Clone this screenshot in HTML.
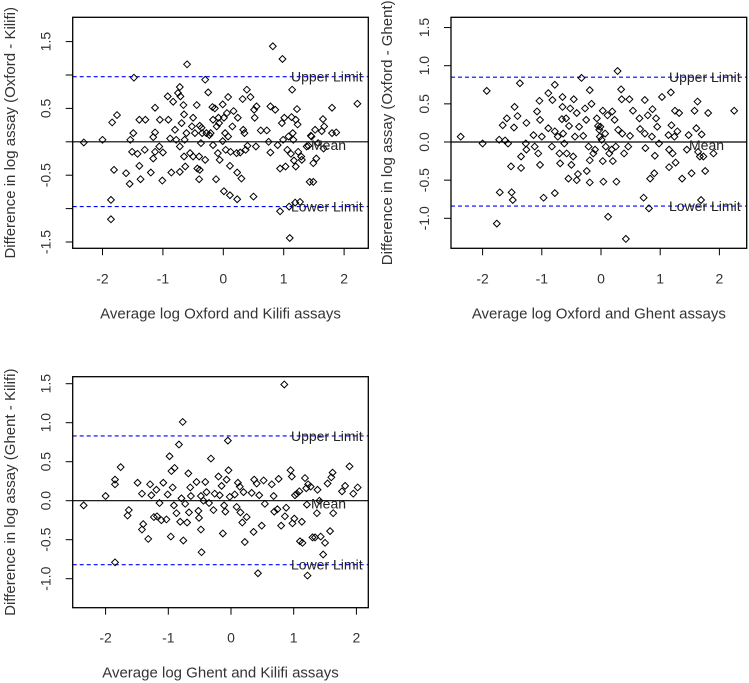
<!DOCTYPE html>
<html><head><meta charset="utf-8"><style>
html,body{margin:0;padding:0;background:#fff;width:749px;height:683px;overflow:hidden}
svg{display:block;font-family:"Liberation Sans",Arial,sans-serif}
</style></head><body>
<svg id="chart" width="749" height="683" viewBox="0 0 749 683" xmlns="http://www.w3.org/2000/svg"></svg>
<script>
// Panel 1: Oxford - Kilifi
const p1X=[-2.31,-2.0,-1.84,-1.76,-1.81,-1.86,-1.86,-1.61,-1.55,-1.54,-1.49,-1.51,-1.48,-1.42,-1.39,-1.39,-1.37,-1.29,-1.30,-1.20,-1.16,-1.13,-1.13,-1.16,-1.13,-1.06,-1.05,-1.01,-1.0,-0.92,-0.91,-0.88,-0.86,-0.83,-0.80,-0.78,-0.75,-0.72,-0.71,-0.72,-0.72,-0.69,-0.66,-0.65,-0.64,-0.65,-0.63,-0.60,-0.61,-0.55,-0.52,-0.50,-0.50,-0.47,-0.44,-0.43,-0.40,-0.40,-0.39,-0.39,-0.37,-0.36,-0.35,-0.30,-0.30,-0.28,-0.25,-0.23,-0.21,-0.18,-0.17,-0.17,-0.14,-0.12,-0.11,-0.09,-0.08,-0.07,-0.06,-0.01,-0.01,0.01,0.03,0.01,0.06,0.08,0.04,0.08,0.11,0.11,0.12,0.15,0.17,0.22,0.23,0.23,0.24,0.28,0.30,0.32,0.33,0.35,0.37,0.39,0.40,0.45,0.50,0.51,0.52,0.54,0.55,0.62,0.72,0.75,0.78,0.78,0.82,0.86,0.90,0.94,0.94,0.97,0.98,0.99,1.01,1.03,1.06,1.08,1.10,1.09,1.12,1.13,1.14,1.15,1.16,1.17,1.19,1.20,1.20,1.22,1.23,1.24,1.27,1.29,1.30,1.38,1.41,1.43,1.45,1.46,1.49,1.49,1.52,1.54,1.57,1.63,1.65,1.66,1.67,1.80,1.80,1.87,2.22];
const p1Y=[-0.01,0.03,0.29,0.40,-0.42,-0.87,-1.16,-0.47,-0.63,0.03,0.13,-0.15,0.96,-0.18,0.33,-0.36,-0.56,0.33,-0.12,-0.46,0.07,0.51,0.14,-0.25,-0.15,-0.07,0.33,-0.58,-0.16,0.68,0.33,0.05,-0.46,0.6,0.18,0.03,0.73,0.82,0.68,-0.07,-0.45,0.28,0.55,0.41,0.03,-0.22,-0.37,1.16,0.13,-0.17,0.23,0.36,-0.22,0.13,0.55,-0.40,-0.56,-0.22,0.24,-0.42,-0.02,0.21,0.13,0.93,-0.27,0.13,0.74,0.10,0.13,0.52,0.33,-0.05,0.50,-0.56,0.23,-0.17,0.36,0.28,-0.27,0.56,0.01,0.36,0.13,-0.74,0.43,0.67,-0.12,0.08,-0.80,-0.36,-0.15,0.23,0.46,-0.17,-0.46,-0.86,0.36,-0.16,-0.55,0.64,0.18,0.13,-0.12,0.78,-0.06,0.67,-0.82,0.48,0.36,-0.07,0.53,0.17,0.17,0.0,-0.16,0.53,1.43,0.48,-0.05,-0.40,-1.04,0.28,1.24,0.03,0.36,-0.37,-0.12,0.08,-1.44,-0.97,-0.18,0.37,0.78,0.13,0.03,-0.28,-0.91,-0.37,0.33,0.49,0.26,-0.15,-0.90,-0.22,-0.27,-0.07,-0.06,-0.6,0.09,0.08,-0.6,-0.32,0.18,-0.25,-0.02,0.16,0.34,-0.10,0.23,0.51,0.13,0.14,0.57];
const p1Limits=[0.975,-0.97];
// Panel 2: Oxford - Ghent
const p2X=[-2.37,-2.0,-1.93,-1.72,-1.71,-1.76,-1.66,-1.62,-1.59,-1.57,-1.52,-1.51,-1.49,-1.47,-1.46,-1.41,-1.37,-1.35,-1.35,-1.27,-1.26,-1.26,-1.14,-1.12,-1.08,-1.06,-1.04,-1.03,-1.03,-1.0,-0.97,-0.89,-0.89,-0.83,-0.82,-0.78,-0.78,-0.78,-0.73,-0.70,-0.69,-0.66,-0.65,-0.65,-0.64,-0.62,-0.59,-0.58,-0.55,-0.54,-0.52,-0.50,-0.47,-0.46,-0.44,-0.41,-0.41,-0.39,-0.37,-0.33,-0.30,-0.27,-0.25,-0.24,-0.21,-0.19,-0.19,-0.19,-0.16,-0.13,-0.10,-0.07,-0.05,-0.03,-0.02,-0.01,0.01,0.03,0.03,0.04,0.07,0.08,0.11,0.12,0.14,0.18,0.19,0.20,0.23,0.25,0.26,0.28,0.29,0.34,0.35,0.36,0.39,0.42,0.46,0.48,0.49,0.54,0.65,0.66,0.72,0.74,0.74,0.75,0.79,0.81,0.83,0.86,0.87,0.90,0.91,0.93,0.95,0.98,1.03,1.14,1.15,1.15,1.18,1.19,1.21,1.24,1.25,1.26,1.29,1.32,1.37,1.45,1.48,1.53,1.58,1.61,1.63,1.64,1.67,1.69,1.70,1.73,1.76,1.81,1.90,2.25];
const p2Y=[0.07,-0.02,0.67,0.03,-0.66,-1.07,0.22,0.02,0.31,-0.02,-0.32,-0.66,-0.76,0.19,0.46,0.34,0.77,-0.19,-0.34,-0.02,0.25,-0.10,0.09,-0.06,0.40,-0.15,0.54,0.29,-0.30,0.07,-0.73,0.64,0.18,-0.06,0.55,0.14,0.75,-0.67,0.07,-0.15,-0.28,0.30,0.59,0.46,0.11,-0.02,0.31,-0.15,-0.48,0.21,0.44,-0.30,-0.19,0.56,0.07,0.38,-0.50,-0.42,0.20,0.84,0.08,0.44,0.29,-0.38,-0.06,-0.24,-0.53,0.68,0.50,-0.15,-0.10,0.31,0.21,0.16,0.07,0.20,0.03,0.41,-0.25,-0.52,0.11,-0.06,0.35,-0.98,-0.15,-0.10,0.40,-0.25,0.29,-0.06,-0.52,0.93,0.16,0.69,0.56,0.11,-0.15,-1.27,-0.06,0.56,0.08,0.41,0.31,0.17,-0.73,0.55,0.11,-0.08,0.35,-0.87,-0.48,0.07,0.43,-0.41,-0.18,0.31,0.20,-0.02,0.59,0.09,-0.33,-0.10,0.65,0.22,-0.15,0.07,0.41,-0.27,0.14,0.38,-0.48,-0.10,0.09,-0.41,0.41,0.18,0.53,-0.13,-0.19,-0.76,0.10,-0.19,-0.38,0.38,-0.15,0.41];
const p2Limits=[0.85,-0.84];
// Panel 3: Ghent - Kilifi
const p3X=[-2.35,-2.0,-1.85,-1.85,-1.85,-1.76,-1.65,-1.63,-1.49,-1.42,-1.40,-1.42,-1.32,-1.29,-1.27,-1.23,-1.19,-1.18,-1.14,-1.11,-1.08,-1.03,-1.01,-0.98,-0.96,-0.95,-0.93,-0.90,-0.91,-0.87,-0.83,-0.81,-0.79,-0.77,-0.76,-0.73,-0.70,-0.68,-0.67,-0.65,-0.64,-0.55,-0.52,-0.51,-0.48,-0.48,-0.47,-0.44,-0.41,-0.39,-0.35,-0.32,-0.28,-0.26,-0.20,-0.18,-0.15,-0.13,-0.11,-0.09,-0.07,-0.05,-0.04,-0.02,0.06,0.09,0.11,0.14,0.15,0.18,0.20,0.22,0.25,0.33,0.36,0.37,0.41,0.43,0.45,0.49,0.52,0.54,0.65,0.68,0.69,0.74,0.76,0.80,0.85,0.86,0.88,0.95,0.97,0.98,1.01,1.02,1.05,1.09,1.10,1.13,1.14,1.18,1.20,1.21,1.22,1.23,1.27,1.30,1.34,1.37,1.38,1.41,1.43,1.47,1.50,1.54,1.58,1.60,1.62,1.63,1.77,1.82,1.89,1.95,2.02];
const p3Y=[-0.06,0.06,0.27,0.21,-0.79,0.43,-0.19,-0.12,0.23,0.09,-0.30,-0.37,-0.49,0.21,0.07,-0.21,0.14,-0.20,-0.03,-0.25,0.23,-0.24,0.08,0.57,-0.46,0.38,0.17,0.42,-0.06,-0.16,0.72,-0.27,0.03,1.01,-0.51,-0.04,-0.28,0.35,-0.15,0.17,0.06,0.24,-0.13,-0.22,0.06,-0.37,-0.66,0.0,0.24,0.11,-0.03,0.54,-0.12,0.09,0.31,0.07,0.19,-0.42,-0.06,-0.14,0.27,0.77,0.39,0.05,0.08,-0.08,0.23,0.18,-0.15,-0.28,0.11,-0.53,-0.21,0.10,-0.40,0.27,0.22,-0.93,0.07,-0.32,0.26,-0.04,0.21,0.06,-0.14,-0.11,0.28,-0.32,1.49,-0.20,-0.09,0.39,0.31,-0.29,-0.23,0.07,0.09,0.12,-0.52,-0.27,-0.54,0.29,0.16,-0.05,-0.96,0.21,0.18,-0.47,-0.47,-0.16,0.14,0.0,-0.46,-0.69,-0.54,0.22,-0.39,0.30,0.36,-0.16,0.12,0.19,0.44,0.09,0.17];
const p3Limits=[0.83,-0.82];

const xTicks=[-2,-1,0,1,2];
const p1YTicks=[-1.5,-1.0,-0.5,0,0.5,1.0,1.5];
const p1YLabels=["-1.5","","-0.5","","0.5","","1.5"];
const p2YTicks=[-1.0,-0.5,0,0.5,1.0,1.5];
const p2YLabels=["-1.0","-0.5","0.0","0.5","1.0","1.5"];
const p3YTicks=[-1.0,-0.5,0,0.5,1.0,1.5];
const p3YLabels=["-1.0","-0.5","0.0","0.5","1.0","1.5"];

const NS="http://www.w3.org/2000/svg";
const svg=document.getElementById('chart');
function mk(tag,attrs,parent,text){const e=document.createElementNS(NS,tag);for(const k in attrs)e.setAttribute(k,attrs[k]);if(text!==undefined)e.textContent=text;(parent||svg).appendChild(e);return e;}

function panel(cfg,xs,ys,lims,yTicks,yLabels){
  const g=mk('g',{});
  
  
  const sx=v=>cfg.x0+v*cfg.kx, sy=v=>cfg.y0-v*cfg.ky;
  const mean=mk('line',{x1:cfg.L,x2:cfg.R,y1:sy(0),y2:sy(0),stroke:'#000','stroke-width':1.2},g);
  
  
  lims.forEach((v,i)=>{
    const l=mk('line',{x1:cfg.L,x2:cfg.R,y1:sy(v),y2:sy(v),stroke:'#0000ff','stroke-width':1.1,'stroke-dasharray':'4,3'},g);
    
    
  });
  xs.forEach((x,i)=>{
    const cx=sx(x),cy=sy(ys[i]),r=3.4;
    const p=mk('path',{d:`M${cx-r},${cy}L${cx},${cy-r}L${cx+r},${cy}L${cx},${cy+r}Z`,fill:'none',stroke:'#000','stroke-width':1},g);
    
    
  });
  const tl=(t,x,y,nm)=>{const e=mk('text',{x:x,y:y,'font-size':14,fill:'#222'},g,t);};
  tl('Upper Limit',cfg.lblX,sy(lims[0])+5,'upper-limit-label');
  tl('Lower Limit',cfg.lblX,sy(lims[1])+5,'lower-limit-label');
  tl('Mean',cfg.lblX+20,sy(0)+8,'mean-label');
  const b=mk('rect',{x:cfg.L,y:cfg.T,width:cfg.R-cfg.L,height:cfg.B-cfg.T,fill:'none',stroke:'#000','stroke-width':1.3},g);
  
  
  xTicks.forEach(t=>{
    const x=sx(t);
    mk('line',{x1:x,x2:x,y1:cfg.B,y2:cfg.B+7,stroke:'#000'},g);
    const e=mk('text',{x:x,y:cfg.B+35,'text-anchor':'middle','font-size':14,fill:'#333'},g,String(t));
    
    
  });
  yTicks.forEach((t,i)=>{
    const y=sy(t);
    mk('line',{x1:cfg.L-7,x2:cfg.L,y1:y,y2:y,stroke:'#000'},g);
    if(yLabels[i]){
      const e=mk('text',{x:0,y:0,transform:`translate(${cfg.L-22},${y}) rotate(-90)`,'text-anchor':'middle','font-size':14,fill:'#333'},g,yLabels[i]);
      
      
    }
  });
  const xt=mk('text',{x:(cfg.L+cfg.R)/2,y:cfg.B+70,'text-anchor':'middle','font-size':15,fill:'#333'},g,cfg.xTitle);
  
  
  const yt=mk('text',{x:0,y:0,transform:`translate(${cfg.ytX},${(cfg.T+cfg.B)/2}) rotate(-90)`,'text-anchor':'middle','font-size':15,fill:'#333'},g,cfg.yTitle);
  
  
}
panel({name:'panel-oxford-kilifi',L:72.7,R:368.3,T:17.3,B:248.3,x0:223.3,kx:60.4,y0:141.8,ky:66.8,lblX:291,ytX:15,
  xTitle:'Average log Oxford and Kilifi assays',yTitle:'Difference in log assay (Oxford - Kilifi)'},p1X,p1Y,p1Limits,p1YTicks,p1YLabels);
panel({name:'panel-oxford-ghent',L:451,R:746.7,T:17.3,B:248.3,x0:601,kx:59.2,y0:142,ky:76.3,lblX:669,ytX:392,
  xTitle:'Average log Oxford and Ghent assays',yTitle:'Difference in log assay (Oxford - Ghent)'},p2X,p2Y,p2Limits,p2YTicks,p2YLabels);
panel({name:'panel-ghent-kilifi',L:72.7,R:368.3,T:376.7,B:607.7,x0:231,kx:62.7,y0:500.7,ky:78,lblX:291,ytX:15,
  xTitle:'Average log Ghent and Kilifi assays',yTitle:'Difference in log assay (Ghent - Kilifi)'},p3X,p3Y,p3Limits,p3YTicks,p3YLabels);
</script>
</body></html>
